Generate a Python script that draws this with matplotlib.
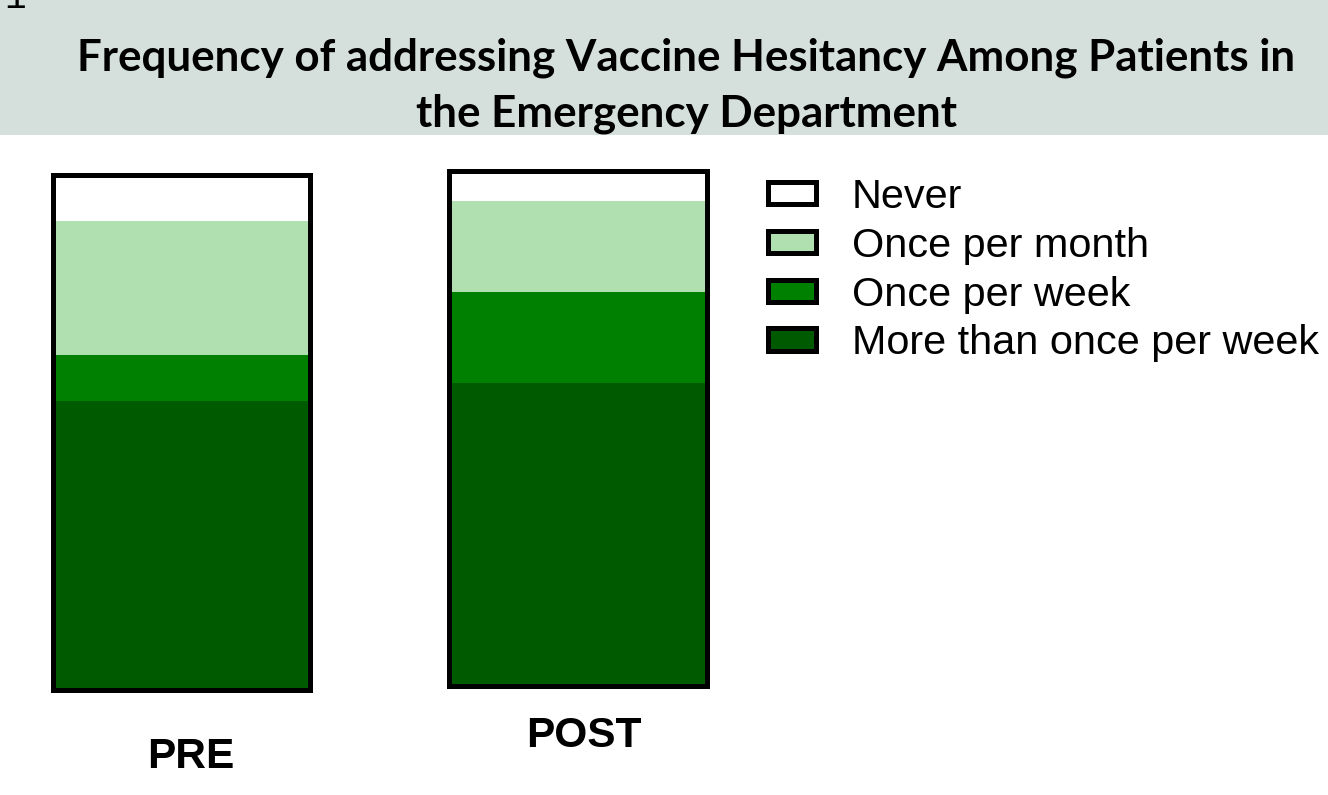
import matplotlib
matplotlib.use('Agg')
import matplotlib.pyplot as plt
import matplotlib.patches as mpatches

# Datos (porcentaje de respuestas por grupo)
grupos = ['PRE', 'POST']
categorias = ['More than once per week', 'Once per week', 'Once per month', 'Never']
pre = [56.0, 9.0, 26.0, 9.0]
post = [58.8, 17.6, 17.6, 6.0]
colores = ['#005a00', '#008000', '#b0dfb0', '#ffffff']

titulo_1 = 'Frequency of addressing Vaccine Hesitancy Among Patients in'
titulo_2 = 'the Emergency Department'

W, H = 1328, 795
fig = plt.figure(figsize=(W / 100, H / 100), dpi=100)

# Banda gris del titulo
fig.patches.append(mpatches.Rectangle((0, 1 - 135 / H), 1, 135 / H, transform=fig.transFigure,
                                      facecolor='#d5dfdc', edgecolor='none', zorder=0))
fig.text(15.5 / W, 1 - 8 / H, '1', family='Liberation Mono', fontsize=26, ha='center', va='baseline')
fig.text(686 / W, 1 - 71 / H, titulo_1, family='Lato', weight='bold', fontsize=31.6,
         ha='center', va='baseline')
fig.text(686 / W, 1 - 126 / H, titulo_2, family='Lato', weight='bold', fontsize=31.6,
         ha='center', va='baseline')

# Un eje por barra (las barras estan desplazadas en la imagen original)
cajas = [(52.5, 689.5, 257), (448.5, 685.5, 258)]
etiquetas_pos = [(190.5, 768), (584, 747)]

for valores, (x0, y0, ancho), nombre, (lx, ly) in zip([pre, post], cajas, grupos, etiquetas_pos):
    ax = fig.add_axes([x0 / W, (H - y0) / H, ancho / W, 515 / H])
    base = 0
    for v, c in zip(valores, colores):
        ax.bar(0, v, bottom=base, width=1, color=c, linewidth=0)
        base += v
    ax.set_xlim(-0.5, 0.5)
    ax.set_ylim(0, 100)
    ax.axis('off')
    ax.add_patch(mpatches.Rectangle((0, 0), 1, 1, transform=ax.transAxes, fill=False,
                                    edgecolor='black', linewidth=3.6, clip_on=False,
                                    joinstyle='miter', zorder=5))
    fig.text(lx / W, 1 - ly / H, nombre, family='Liberation Sans', weight='bold',
             fontsize=30.5, ha='center', va='baseline')

# Leyenda con cajas de borde negro
handles = [mpatches.Patch(facecolor=c, edgecolor='black', linewidth=3.6, joinstyle='miter')
           for c in colores[::-1]]
fig.legend(handles, categorias[::-1], loc='upper left', bbox_to_anchor=(767.5 / W, 1 - 178 / H),
           frameon=False, prop={'family': 'Liberation Sans', 'size': 29.8},
           handlelength=1.18, handleheight=0.45, handletextpad=0.85, labelspacing=0.26,
           borderpad=0, borderaxespad=0)

fig.savefig('out.png', dpi=100)
